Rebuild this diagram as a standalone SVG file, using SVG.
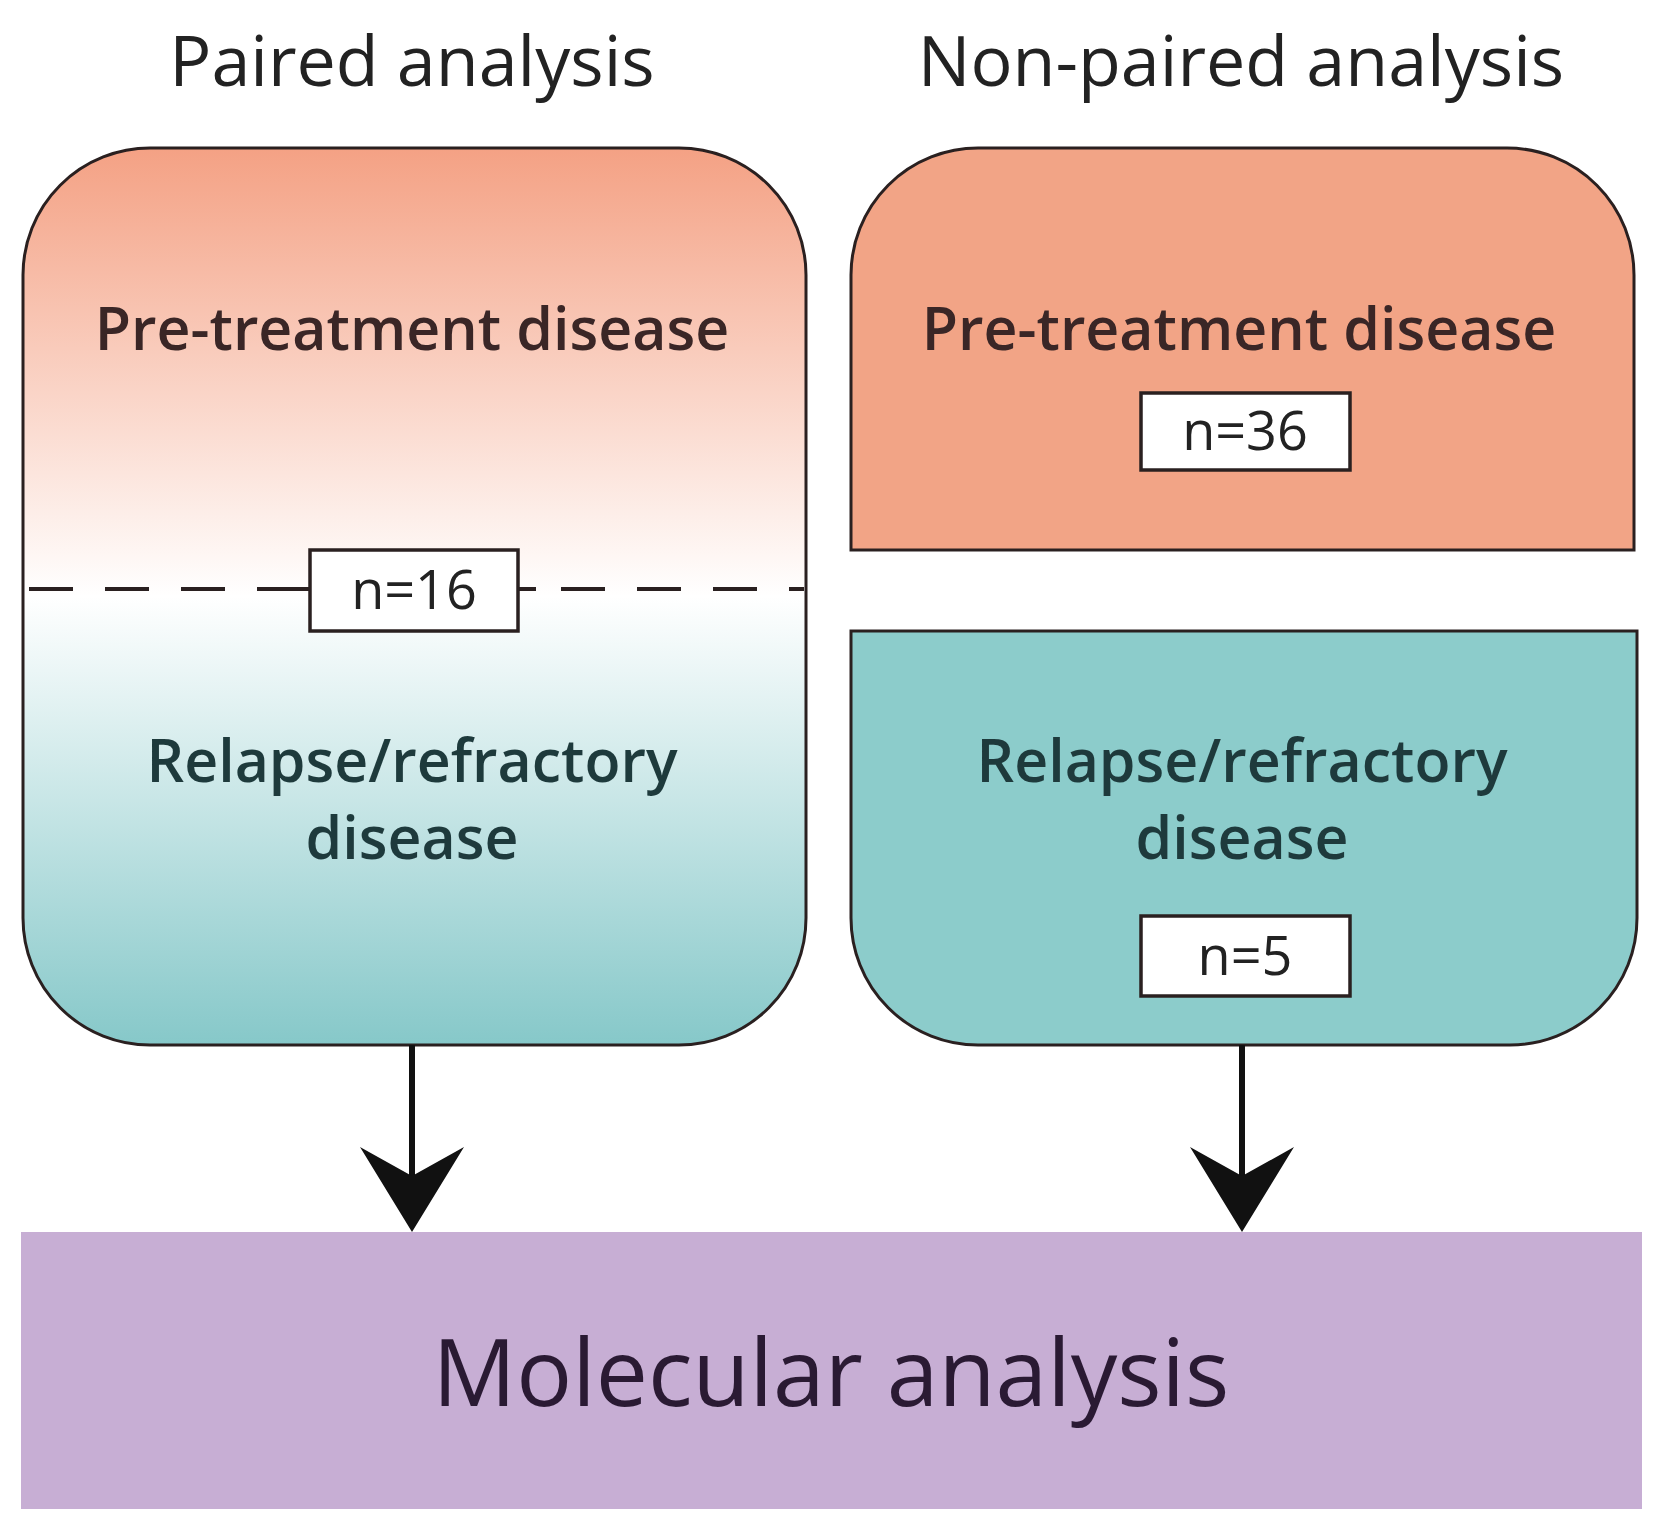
<svg xmlns="http://www.w3.org/2000/svg" width="1658" height="1532" viewBox="0 0 1658 1532">
<style>
.t{font-family:"Open Sans","Liberation Sans",sans-serif;text-anchor:middle}
.h{font-size:70px;fill:#222;font-weight:500}
.p{font-size:59px;fill:#3a2626;font-weight:600}
.r{font-size:59px;fill:#1e3a3c;font-weight:600}
.n{font-size:54px;fill:#222;font-weight:500}
.box{stroke:#2a2020;stroke-width:3}
.nb{fill:#fff;stroke:#2a2020;stroke-width:3.5}
</style>
<defs>
<linearGradient id="g" x1="0" y1="148" x2="0" y2="1045" gradientUnits="userSpaceOnUse">
<stop offset="0" stop-color="#f4a184"/>
<stop offset="0.5" stop-color="#fff"/>
<stop offset="1" stop-color="#86c8c9"/>
</linearGradient>
</defs>
<rect width="1658" height="1532" fill="#fff"/>
<text class="t h" x="412" y="86">Paired analysis</text>
<text class="t h" x="1241" y="86">Non-paired analysis</text>
<g id="paired">
<rect class="box" x="23" y="148" width="783" height="897" rx="127" fill="url(#g)"/>
<line x1="25" y1="589" x2="804" y2="589" stroke="#2a2020" stroke-width="4" stroke-dasharray="44,32" stroke-dashoffset="-4"/>
<line x1="296" y1="589" x2="536" y2="589" stroke="#2a2020" stroke-width="4"/>
<text class="t p" x="412" y="350">Pre-treatment disease</text>
<rect class="nb" x="310" y="550" width="208" height="81"/>
<text class="t n" x="414" y="609">n=16</text>
<text class="t r" x="412" y="782">Relapse/refractory</text>
<text class="t r" x="412" y="859">disease</text>
</g>
<g id="pre">
<path class="box" d="M851,550 V275 A127,127 0 0 1 978,148 H1507 A127,127 0 0 1 1634,275 V550 Z" fill="#f2a486"/>
<text class="t p" x="1239" y="350">Pre-treatment disease</text>
<rect class="nb" x="1141" y="393" width="209" height="77"/>
<text class="t n" x="1245" y="450">n=36</text>
</g>
<g id="relapse">
<path class="box" d="M851,631 H1637 V918 A127,127 0 0 1 1510,1045 H978 A127,127 0 0 1 851,918 Z" fill="#8ccccb"/>
<text class="t r" x="1242" y="782">Relapse/refractory</text>
<text class="t r" x="1242" y="859">disease</text>
<rect class="nb" x="1141" y="916" width="209" height="80"/>
<text class="t n" x="1245" y="975">n=5</text>
</g>
<g id="molecular">
<rect x="21" y="1232" width="1621" height="277" fill="#c7aed4"/>
<text class="t" x="831" y="1406" font-size="93" fill="#2a1a33" font-weight="500">Molecular analysis</text>
</g>
<g id="connectors" fill="#111" stroke="#111">
<line x1="412" y1="1045" x2="412" y2="1200" stroke-width="6"/>
<path d="M360,1147 L412,1176 L464,1147 L412,1232 Z" stroke="none"/>
<line x1="1242" y1="1045" x2="1242" y2="1200" stroke-width="6"/>
<path d="M1190,1147 L1242,1176 L1294,1147 L1242,1232 Z" stroke="none"/>
</g>
</svg>
